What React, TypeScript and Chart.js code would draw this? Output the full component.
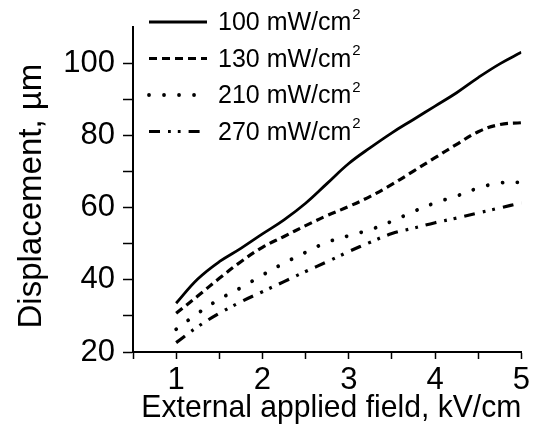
import React, { useEffect, useRef } from "react";
import { Chart, registerables } from "chart.js";

Chart.register(...registerables);

// External applied field, kV/cm
const fieldKV = [1, 1.25, 1.5, 1.75, 2, 2.25, 2.5, 2.75, 3, 3.25, 3.5, 3.75, 4, 4.25, 4.5, 4.75, 5];

// Displacement, µm
const disp100 = [33.5, 40.2, 45, 48.7, 52.7, 56.6, 61.2, 66.7, 72.2, 76.6, 80.7, 84.4, 88.1, 91.8, 96, 99.8, 103];
const disp130 = [30.7, 35.5, 40.4, 45, 49, 52, 55, 57.8, 60.3, 63.1, 66.4, 70.1, 73.8, 77.5, 81, 83, 83.5];
const disp210 = [26.3, 30.7, 34.6, 37.8, 41.3, 44.6, 47.6, 50.4, 52.2, 53.9, 56.2, 58.9, 61.3, 63.2, 65.4, 66.8, 67];
const disp270 = [22.6, 27, 30.7, 33.9, 36.7, 39.5, 42.3, 45, 47.8, 50.4, 52.8, 54.3, 55.8, 57.1, 58.5, 59.9, 61.3];

const seriesNames = ["100 mW/cm", "130 mW/cm", "210 mW/cm", "270 mW/cm"];
const seriesSuperscript = "2";

const xTitle = " External applied field, kV/cm";
const yTitle = "Displacement, µm\u2009\u2009";

const FONT = '"Liberation Sans", Arial, Helvetica, sans-serif';

const insetLegend = {
  id: "insetLegend",
  afterDatasetsDraw(chart: any) {
    const ctx: CanvasRenderingContext2D = chart.ctx;
    const lineX0 = 149;
    const lineX1 = 207;
    const textX = 218;
    const top = 22;
    const gap = 36.5;
    const mainSize = 25;
    const supSize = 15;
    ctx.save();
    chart.data.datasets.forEach((ds: any, i: number) => {
      const y = top + i * gap;
      ctx.beginPath();
      ctx.setLineDash(ds.borderDash || []);
      ctx.lineWidth = ds.borderWidth;
      ctx.lineCap = ds.borderCapStyle || "butt";
      ctx.strokeStyle = "#000";
      ctx.moveTo(lineX0, y);
      ctx.lineTo(lineX1, y);
      ctx.stroke();
      ctx.setLineDash([]);
      ctx.fillStyle = "#000";
      ctx.textAlign = "left";
      ctx.textBaseline = "alphabetic";
      ctx.font = `${mainSize}px ${FONT}`;
      const baseline = y + 0.33 * mainSize;
      ctx.fillText(ds.label, textX, baseline);
      const w = ctx.measureText(ds.label).width;
      ctx.font = `${supSize}px ${FONT}`;
      ctx.fillText(seriesSuperscript, textX + w + 1, baseline - 0.46 * mainSize);
    });
    ctx.restore();
  },
};

export default function App() {
  const canvasRef = useRef<HTMLCanvasElement | null>(null);

  useEffect(() => {
    const canvas = canvasRef.current;
    if (!canvas) return;
    const mk = (vals: number[]) => fieldKV.map((x, i) => ({ x, y: vals[i] }));
    const common = {
      borderColor: "#000",
      backgroundColor: "#000",
      borderWidth: 3,
      pointRadius: 0,
      pointHoverRadius: 0,
      fill: false,
      tension: 0.4,
    };
    const chart = new Chart(canvas, {
      type: "line",
      data: {
        datasets: [
          { ...common, label: seriesNames[0], data: mk(disp100), borderDash: [], borderWidth: 2.8 },
          { ...common, label: seriesNames[1], data: mk(disp130), borderDash: [8, 5], borderWidth: 3.2 },
          {
            ...common,
            label: seriesNames[2],
            data: mk(disp210),
            borderDash: [0.01, 15],
            borderWidth: 3.8,
            borderCapStyle: "round",
          },
          {
            ...common,
            label: seriesNames[3],
            data: mk(disp270),
            borderDash: [11, 8, 2.8, 7, 2.8, 8],
            borderWidth: 3.2,
          },
        ],
      },
      options: {
        responsive: false,
        animation: false,
        events: [],
        layout: { padding: { top: 27, right: 11, left: 0, bottom: 0 } },
        plugins: {
          legend: { display: false },
          tooltip: { enabled: false },
          title: { display: false },
        },
        scales: {
          x: {
            type: "linear",
            min: 0.5,
            max: 5,
            afterFit: (s: any) => {
              s.height = 81;
            },
            ticks: {
              stepSize: 0.5,
              autoSkip: false,
              maxRotation: 0,
              color: "#000",
              padding: 3,
              font: { family: FONT, size: 31 },
              callback: (v: any) => (Number.isInteger(Number(v)) ? String(v) : ""),
            },
            grid: {
              drawOnChartArea: false,
              drawTicks: true,
              tickLength: 7,
              tickColor: "#000",
              tickWidth: 1.5,
            },
            border: { display: true, color: "#000", width: 2 },
            title: {
              display: true,
              text: xTitle,
              color: "#000",
              font: { family: FONT, size: 31.5 },
              padding: { top: 0, bottom: 6 },
            },
          },
          y: {
            type: "linear",
            min: 20,
            max: 110,
            afterFit: (s: any) => {
              s.width = 133;
            },
            ticks: {
              stepSize: 10,
              autoSkip: false,
              color: "#000",
              padding: 8,
              font: { family: FONT, size: 31 },
              callback: (v: any) => (Number(v) % 20 === 0 && Number(v) <= 100 ? String(v) : ""),
            },
            grid: {
              drawOnChartArea: false,
              drawTicks: true,
              tickLength: 10,
              tickColor: (c: any) => (c.tick && c.tick.value >= 110 ? "rgba(0,0,0,0)" : "#000"),
              tickWidth: 1.5,
            },
            border: { display: true, color: "#000", width: 2 },
            title: {
              display: true,
              text: yTitle,
              color: "#000",
              font: { family: FONT, size: 33 },
              padding: { top: 12, bottom: 0 },
            },
          },
        },
      },
      plugins: [insetLegend],
    });
    return () => chart.destroy();
  }, []);

  return (
    <div style={{ position: "absolute", left: 0, top: 0, width: 533, height: 433, background: "#fff" }}>
      <canvas ref={canvasRef} width={533} height={433} style={{ display: "block" }} />
    </div>
  );
}
